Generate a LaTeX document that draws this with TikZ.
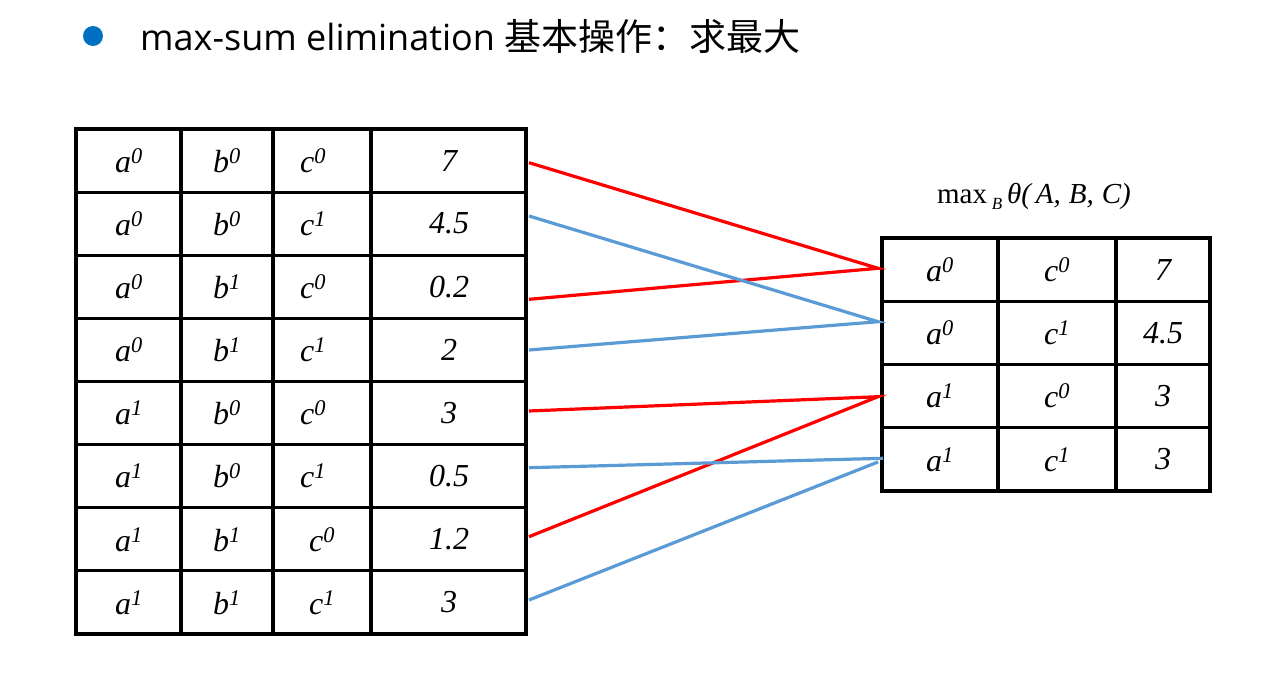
\documentclass[tikz,border=0pt]{standalone}
\usepackage{fontspec}
\setmainfont{Liberation Serif}
\newfontfamily\cjk{Noto Sans CJK SC}
\newfontfamily\latinsans{Open Sans}
\definecolor{lnred}{RGB}{255,0,0}
\definecolor{lnblue}{RGB}{91,155,213}
\definecolor{bulletblue}{RGB}{0,112,192}
\newcommand\cv[2]{#1\textsuperscript{#2}}
\begin{document}
\begin{tikzpicture}[x=1pt,y=-1pt,
  grid/.style={line width=3.2pt,line cap=rect},
  cell/.style={inner sep=0pt,font=\fontsize{32}{32}\selectfont\itshape},
  redln/.style={draw=lnred,line width=3.2pt},
  blueln/.style={draw=lnblue,line width=3.2pt}]
\useasboundingbox (0,0) rectangle (1288,682);
\fill[white] (0,0) rectangle (1288,682);
% title
\fill[bulletblue] (93,36) circle (10);
\node[anchor=west,inner sep=0pt] (title) at (140,36)
  {\fontsize{36}{36}\selectfont\latinsans max-sum elimination \fontsize{37}{37}\selectfont\cjk 基本操作：求最大};
% left table grid
\foreach \x in {76,181,273,371,526} \draw[grid] (\x,129) -- (\x,634);
\foreach \i in {0,...,8} \draw[grid] (76,129+63.125*\i) -- (526,129+63.125*\i);
% right table grid
\foreach \x in {882,998,1116,1210} \draw[grid] (\x,238) -- (\x,491);
\foreach \i in {0,...,4} \draw[grid] (882,238+63.25*\i) -- (1210,238+63.25*\i);
% left table text
\newcommand\lrow[6]{%
  \node[cell] (L#1a) at (129,{129+63.125*(#1-0.5)}) {\cv{a}{#2}};
  \node[cell] (L#1b) at (227,{129+63.125*(#1-0.5)}) {\cv{b}{#3}};
  \node[cell] (L#1c) at (#6,{129+63.125*(#1-0.5)}) {\cv{c}{#4}};
  \node[cell] (L#1v) at (449,{129+63.125*(#1-0.5)}) {#5};}
\lrow{1}{0}{0}{0}{7}{313}
\lrow{2}{0}{0}{1}{4.5}{313}
\lrow{3}{0}{1}{0}{0.2}{313}
\lrow{4}{0}{1}{1}{2}{313}
\lrow{5}{1}{0}{0}{3}{313}
\lrow{6}{1}{0}{1}{0.5}{313}
\lrow{7}{1}{1}{0}{1.2}{322}
\lrow{8}{1}{1}{1}{3}{322}
% right table text
\newcommand\rrow[4]{%
  \node[cell] (R#1a) at (940,{238+63.25*(#1-0.5)}) {\cv{a}{#2}};
  \node[cell] (R#1c) at (1057,{238+63.25*(#1-0.5)}) {\cv{c}{#3}};
  \node[cell] (R#1v) at (1163,{238+63.25*(#1-0.5)}) {#4};}
\rrow{1}{0}{0}{7}
\rrow{2}{0}{1}{4.5}
\rrow{3}{1}{0}{3}
\rrow{4}{1}{1}{3}
% label
\node[inner sep=0pt] (lab) at (1034,196)
  {\fontsize{29}{29}\selectfont max\,\raisebox{-6pt}{\fontsize{17}{17}\selectfont\itshape B}\,\itshape θ(\,A,\;B,\;C)};
% connector end points
\coordinate (s1) at (529,162.7);
\coordinate (s2) at (529,216);
\coordinate (s3) at (529,299.3);
\coordinate (s4) at (529,350);
\coordinate (s5) at (529,411);
\coordinate (s6) at (529,467.7);
\coordinate (s7) at (529,536.7);
\coordinate (s8) at (529,600);
\coordinate (t1) at (878,268.3);
\coordinate (t2) at (878,321.7);
\coordinate (t3) at (878,396.7);
\coordinate (t4a) at (883,458.3);
\coordinate (t4b) at (878,462);
\draw[redln] (s1) -- (t1) -- (s3);
\draw[blueln] (s2) -- (t2) -- (s4);
\draw[redln] (s5) -- (t3) -- (s7);
\draw[blueln] (s6) -- (t4a);
\draw[blueln] (s8) -- (t4b);
\end{tikzpicture}
\end{document}
